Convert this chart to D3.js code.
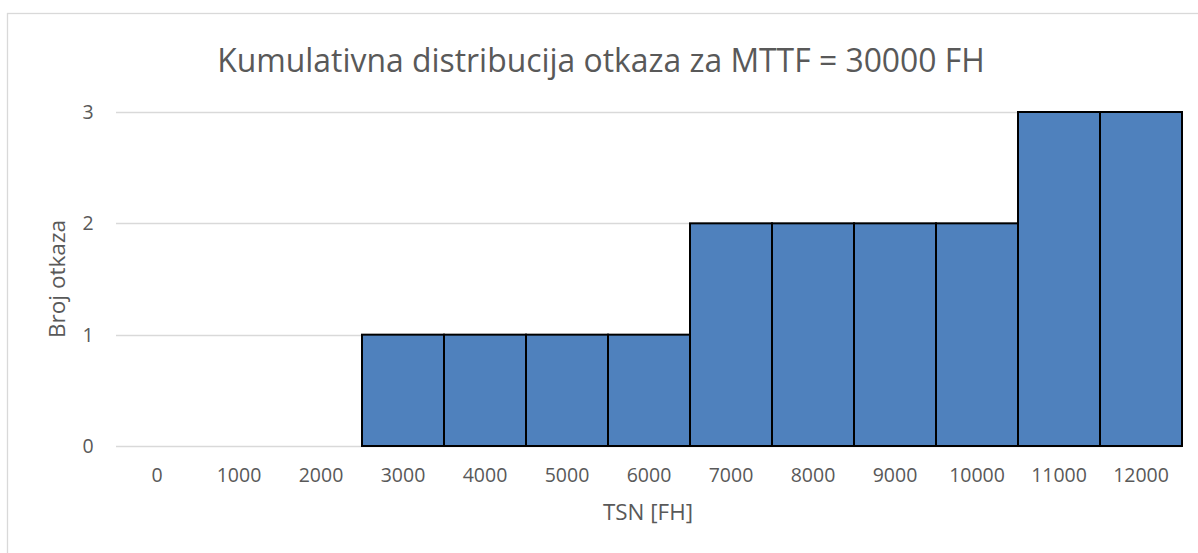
<!DOCTYPE html>
<html>
<head>
<meta charset="utf-8">
<script src="https://cdnjs.cloudflare.com/ajax/libs/d3/7.8.5/d3.min.js"></script>
<style>
  body { margin: 0; background: #fff; }
  svg text { font-family: "Open Sans", "Noto Sans", sans-serif; fill: #595959; }
</style>
</head>
<body>
<svg id="chart" width="1198" height="553"></svg>
<script>
// data
const categories = ['0','1000','2000','3000','4000','5000','6000','7000','8000','9000','10000','11000','12000'];
const failures = [0, 0, 0, 1, 1, 1, 1, 2, 2, 2, 2, 3, 3];
const yTicks = [0, 1, 2, 3];
const chartTitle = 'Kumulativna distribucija otkaza za MTTF = 30000 FH';
const xTitle = 'TSN [FH]';
const yTitle = 'Broj otkaza';

const svg = d3.select('#chart');
const margin = {top: 112, left: 116, right: 16, bottom: 107};
const W = 1198, H = 553;

// shrink/grow font so the text spans about the same width as in the picture
function fitText(sel, target) {
    const w = sel.node().getComputedTextLength();
    const fs = parseFloat(sel.style('font-size'));
    sel.style('font-size', (fs * target / w).toFixed(2) + 'px');
}

// frame of the chart area
svg.append('rect')
    .attr('x', 7.5).attr('y', 13.5)
    .attr('width', 1220).attr('height', 620)
    .attr('fill', 'none').attr('stroke', '#d9d9d9').attr('stroke-width', 1.3);

const x = d3.scaleBand().domain(categories).range([margin.left, W - margin.right]).padding(0);
const y = d3.scaleLinear().domain([0, 3]).range([H - margin.bottom, margin.top]);

// gridlines
svg.append('g').selectAll('line').data(yTicks).join('line')
    .attr('x1', margin.left).attr('x2', W - margin.right)
    .attr('y1', d => Math.round(y(d)) + 0.5).attr('y2', d => Math.round(y(d)) + 0.5)
    .attr('stroke', '#d9d9d9').attr('stroke-width', 1.3);

// bars
svg.append('g').selectAll('rect')
    .data(categories.map((c, i) => ({c, v: failures[i]})).filter(d => d.v > 0))
    .join('rect')
    .attr('x', d => x(d.c))
    .attr('y', d => y(d.v))
    .attr('width', x.bandwidth())
    .attr('height', d => y(0) - y(d.v))
    .attr('fill', '#4f81bd')
    .attr('stroke', '#000').attr('stroke-width', 2);

// y tick labels
svg.append('g').selectAll('text').data(yTicks).join('text')
    .attr('x', 88).attr('y', d => y(d)).attr('dy', '0.36em')
    .attr('text-anchor', 'middle')
    .style('font-size', '19.5px')
    .text(d => d);

// x tick labels
svg.append('g').selectAll('text').data(categories).join('text')
    .attr('x', d => x(d) + x.bandwidth() / 2).attr('y', 482)
    .attr('text-anchor', 'middle')
    .style('font-size', '19.5px')
    .text(d => d);

// titles
const t = svg.append('text')
    .attr('x', 601).attr('y', 72)
    .attr('text-anchor', 'middle')
    .style('font-size', '28px')
    .text(chartTitle);
fitText(t, 768);

const xt = svg.append('text')
    .attr('x', 648).attr('y', 520)
    .attr('text-anchor', 'middle')
    .style('font-size', '19px')
    .text(xTitle);
fitText(xt, 90);

const yt = svg.append('text')
    .attr('transform', 'translate(65,279) rotate(-90)')
    .attr('text-anchor', 'middle')
    .style('font-size', '19px')
    .text(yTitle);
fitText(yt, 118);
</script>
</body>
</html>
